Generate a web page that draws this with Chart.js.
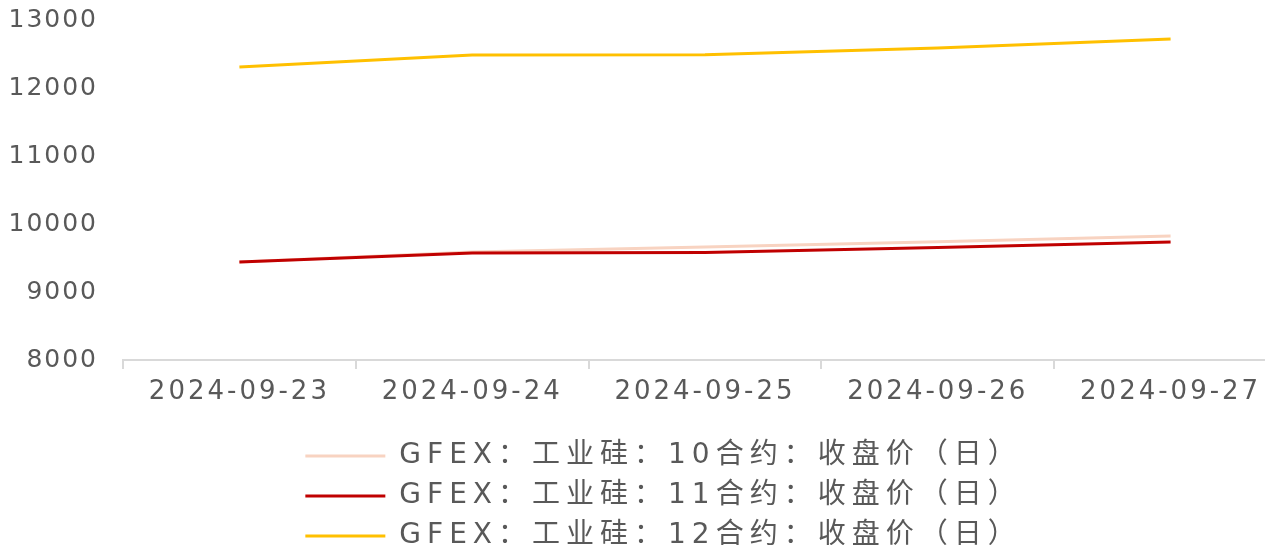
<!DOCTYPE html>
<html>
<head>
<meta charset="utf-8">
<script src="https://cdn.jsdelivr.net/npm/chart.js@4"></script>
<style>
  html, body { margin: 0; padding: 0; background: #fff; overflow: hidden; }
  #wrap { width: 1287px; height: 560px; position: relative; }
</style>
</head>
<body>
<div id="wrap"><canvas id="chart"></canvas></div>
<script>
// chart data
const dates = ['2024-09-23', '2024-09-24', '2024-09-25', '2024-09-26', '2024-09-27'];
const close10 = [9440, 9590, 9660, 9740, 9825];
const close11 = [9440, 9575, 9580, 9655, 9735];
const close12 = [12310, 12485, 12490, 12590, 12720];
const seriesNames = [
    'GFEX：工业硅：10合约：收盘价（日）',
    'GFEX：工业硅：11合约：收盘价（日）',
    'GFEX：工业硅：12合约：收盘价（日）'
];
const yMin = 8000, yMax = 13000, yStep = 1000;

const textColor = '#595959';

// letter spacing per part of the chart (canvas letterSpacing)
function withSpacing(obj, ctx, spacing, methods) {
    if (!obj || obj._spaced) return;
    obj._spaced = true;
    methods.forEach(name => {
        const orig = obj[name].bind(obj);
        obj[name] = function (...args) {
            const old = ctx.letterSpacing;
            ctx.letterSpacing = spacing;
            const res = orig(...args);
            ctx.letterSpacing = old;
            return res;
        };
    });
}

const spacingPlugin = {
    id: 'spacing',
    beforeLayout(chart) {
        const ctx = chart.ctx;
        withSpacing(chart.scales.y, ctx, '2px', ['update', 'draw']);
        withSpacing(chart.scales.x, ctx, '3px', ['update', 'draw']);
        withSpacing(chart.legend, ctx, '6px', ['fit', 'draw']);
    },
    afterLayout(chart) {
        // legend sits a little right of the canvas centre
        chart.legend.left += 20;
        chart.legend.right += 20;
    }
};

const ctx = document.getElementById('chart').getContext('2d');
new Chart(ctx, {
    type: 'line',
    data: {
        labels: dates,
        datasets: [{
            label: seriesNames[0],
            data: close10,
            borderColor: '#f8d3c1',
            backgroundColor: '#f8d3c1',
            borderWidth: 3,
            pointRadius: 0,
            order: 2
        }, {
            label: seriesNames[1],
            data: close11,
            borderColor: '#c00000',
            backgroundColor: '#c00000',
            borderWidth: 3,
            pointRadius: 0,
            order: 1
        }, {
            label: seriesNames[2],
            data: close12,
            borderColor: '#ffc000',
            backgroundColor: '#ffc000',
            borderWidth: 3,
            pointRadius: 0,
            order: 0
        }]
    },
    options: {
        responsive: true,
        maintainAspectRatio: false,
        animation: false,
        layout: { padding: { top: 20, left: 0, right: 0, bottom: 0 } },
        plugins: {
            tooltip: { enabled: false },
            legend: {
                position: 'bottom',
                labels: {
                    boxWidth: 80,
                    boxHeight: 0,
                    padding: 12,
                    color: textColor,
                    font: { family: '"DejaVu Sans", "Noto Sans CJK SC", sans-serif', size: 28 },
                    sort: (a, b) => a.datasetIndex - b.datasetIndex
                }
            }
        },
        scales: {
            x: {
                offset: true,
                grid: {
                    offset: true,
                    drawOnChartArea: false,
                    drawTicks: true,
                    tickLength: 9,
                    color: '#d9d9d9',
                    lineWidth: 2
                },
                border: { display: true, color: '#d9d9d9', width: 2 },
                ticks: {
                    color: textColor,
                    font: { family: '"DejaVu Sans", sans-serif', size: 26 },
                    padding: 8,
                    maxRotation: 0,
                    autoSkip: false
                },
                afterFit(scale) { scale.height = 70; }
            },
            y: {
                min: yMin,
                max: yMax,
                grid: { display: false, drawTicks: false },
                border: { display: false },
                ticks: {
                    stepSize: yStep,
                    color: textColor,
                    font: { family: '"DejaVu Sans", sans-serif', size: 25 },
                    padding: 25,
                    callback: v => String(v)
                },
                afterFit(scale) {
                    scale.width = 123;
                    scale.paddingTop = 15;
                    scale.paddingBottom = 15;
                }
            }
        }
    },
    plugins: [spacingPlugin]
});
</script>
</body>
</html>
